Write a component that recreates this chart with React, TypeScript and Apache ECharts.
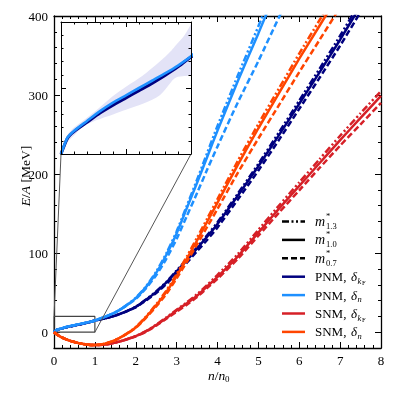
import React, { useEffect, useRef } from "react";
import * as echarts from "echarts";

// density n/n0
const X = [0, 0.05, 0.1, 0.2, 0.3, 0.4, 0.5, 0.6, 0.7, 0.8, 0.9, 1, 1.25, 1.5, 1.75, 2, 2.25, 2.5, 2.75, 3, 3.25, 3.5, 3.75, 4, 4.5, 5, 5.5, 6, 6.5, 7, 7.5, 8];

// PNM, delta_kF (navy)
const pnmKDot = [0, 2.4, 3.4, 4.8, 6.2, 7.4, 8.5, 9.6, 10.7, 11.9, 13.2, 14.7, 17.5, 21, 26, 32.2, 41.3, 51.5, 63.7, 78, 92.2, 107.5, 122.8, 139, 175.5, 213, 252.5, 293, 333.5, 375, 418.5, 462];
const pnmKSolid = [0, 2.4, 3.4, 4.8, 6.2, 7.4, 8.5, 9.6, 10.7, 11.9, 13.2, 14.7, 17.5, 21, 26, 32, 41, 51, 63, 77, 91, 106, 121, 137, 173, 210, 249, 289, 329, 370, 413, 456];
const pnmKDash = [0, 2.4, 3.4, 4.8, 6.2, 7.4, 8.5, 9.6, 10.7, 11.9, 13.2, 14.7, 17.5, 21, 25.8, 31.5, 40, 49.5, 61, 74.5, 88, 102.5, 117, 132.5, 168, 204.5, 243, 282.5, 322, 362.5, 405, 447];

// PNM, delta_n (light blue)
const pnmNDot = [0, 2.5, 3.5, 5.0, 6.5, 7.8, 8.9, 10.0, 11.1, 12.2, 13.4, 14.8, 19.5, 25.2, 33.3, 43.5, 57.8, 76.5, 100, 127.5, 160, 193, 227, 261, 325, 387, 450, 512, 574, 636, 698, 760];
const pnmNSolid = [0, 2.5, 3.5, 5.0, 6.5, 7.8, 8.9, 10.0, 11.1, 12.2, 13.4, 14.8, 19.5, 25, 33, 43, 57, 75, 98, 125, 157, 189, 222, 255, 318, 378, 440, 500, 560, 620, 680, 740];
const pnmNDash = [0, 2.5, 3.5, 5.0, 6.5, 7.8, 8.9, 10.0, 11.1, 12.2, 13.4, 14.8, 19.5, 25, 33, 42, 55.5, 72, 93, 118, 147, 176, 206, 235, 291, 343, 398, 450, 502, 554, 606, 658];

// SNM, delta_kF (red)
const snmKDot = [0, -2, -3.8, -6.8, -9, -11, -12.5, -13.8, -14.8, -15.6, -16.1, -16.3, -15.6, -13.2, -9.4, -4.9, 1.3, 9.5, 18.8, 28.5, 37.8, 48, 60, 72.5, 99, 129.5, 160, 189.5, 219, 248.5, 277, 305];
const snmKSolid = [0, -2, -3.8, -6.8, -9, -11, -12.5, -13.8, -14.8, -15.6, -16.1, -16.3, -15.6, -13.2, -9.5, -5, 1, 9, 18, 27.5, 36.5, 46, 58, 70, 96, 126, 156, 185, 214, 243, 271, 299];
const snmKDash = [0, -2, -3.8, -6.8, -9, -11, -12.5, -13.8, -14.8, -15.6, -16.1, -16.3, -15.6, -13.2, -9.6, -5.2, 0.6, 8.3, 17, 26, 34.8, 44.5, 56, 67.5, 93, 122, 151, 179.5, 208, 236, 263, 290];

// SNM, delta_n (orange)
const snmNDot = [0, -2, -3.8, -6.8, -9, -11, -12.5, -13.8, -14.8, -15.6, -16.1, -16.3, -14.4, -9.8, -2.7, 6.5, 19.8, 35.2, 52.8, 73.5, 96, 119.5, 144, 168.5, 217, 263.5, 308, 352.5, 395, 437.5, 480, 522];
const snmNSolid = [0, -2, -3.8, -6.8, -9, -11, -12.5, -13.8, -14.8, -15.6, -16.1, -16.3, -14.5, -10, -3, 6, 19, 34, 51, 71, 93, 116, 140, 164, 212, 258, 302, 346, 388, 430, 472, 514];
const snmNDash = [0, -2, -3.8, -6.8, -9, -11, -12.5, -13.8, -14.8, -15.6, -16.1, -16.3, -14.5, -10, -3, 5.5, 18, 32.5, 48.5, 68, 89, 111, 133.5, 156, 202, 245, 287, 329, 370, 411, 452, 493];

// inset uncertainty band (PNM)
const bandX = [0, 0.05, 0.1, 0.167, 0.27, 0.4, 0.5, 0.63, 0.76, 0.85, 0.885, 0.95, 1.0];
const bandLow = [0, 1.8, 2.8, 4.1, 5.1, 6.0, 6.7, 7.6, 8.9, 11.0, 11.6, 11.8, 11.9];
const bandHigh = [0, 2.9, 4.0, 5.0, 6.6, 8.8, 10.2, 11.9, 14.0, 15.7, 16.5, 18.0, 19.7];

// zoom rectangle in the main panel [x0, x1, y0, y1]
const zoomBox = [0, 1, 0, 20];

// ticks
const Y_MAJOR = [0, 100, 200, 300, 400];
const Y_MINOR = [-20, 20, 40, 60, 80, 120, 140, 160, 180, 220, 240, 260, 280, 320, 340, 360, 380];

// legend labels
const MSTAR_SUBS = ["1.3", "1.0", "0.7"];
const MATTER_LABELS = ["PNM", "PNM", "SNM", "SNM"];
const DELTA_SUBS = ["kF", "n", "kF", "n"];

const FONT = "Liberation Serif";
const NAVY = "#00007F";
const LB = "#1E90FF";
const RED = "#D62027";
const ORANGE = "#FF4500";
const DASH = [6, 3];
const DASHDOT = [7, 2.5, 2, 2.5, 2, 2.5];

export default function App() {
  const ref = useRef<HTMLDivElement>(null);
  useEffect(() => {
    const chart = echarts.init(ref.current!, null, { renderer: "svg" });

    const mk = (name: string, vals: number[], color: string, dash: any, z: number, n?: number, xi = 0, yi = 0, width = 2.5) => ({
      type: "line",
      name,
      xAxisIndex: xi,
      yAxisIndex: yi,
      data: X.slice(0, n ?? X.length).map((x, i) => [x, vals[i]]),
      showSymbol: false,
      symbol: "none",
      smooth: 0.2,
      silent: true,
      z,
      lineStyle: { color, width, type: dash, cap: "butt" },
    });

    const axisLabel = { fontFamily: FONT, fontSize: 13, color: "#000", margin: 6 };
    const lineStyleAxis = { color: "#000", width: 1.3 };
    const insetAxisLine = { onZero: false, lineStyle: { color: "#000", width: 1 } };
    const insetTick = { inside: true, length: 5, lineStyle: { color: "#000" } };
    const insetMinor = { show: true, splitNumber: 5, length: 2.5, lineStyle: { color: "#000" } };

    const option: any = {
      animation: false,
      grid: [
        { left: 54, right: 13, top: 16, bottom: 46, containLabel: false },
        { left: 61, top: 22, width: 130, height: 132, show: true, backgroundColor: "#fff", borderWidth: 0 },
        { left: 54, right: 13, top: 16, bottom: 46, containLabel: false },
      ],
      xAxis: [
        { gridIndex: 0, type: "value", min: 0, max: 8, interval: 1, position: "bottom", axisLine: { onZero: false, lineStyle: lineStyleAxis }, axisTick: { inside: true, length: 6, lineStyle: { color: "#000" } }, minorTick: { show: true, splitNumber: 5, length: 3, lineStyle: { color: "#000" } }, axisLabel, splitLine: { show: false } },
        { gridIndex: 0, type: "value", min: 0, max: 8, interval: 1, position: "top", axisLine: { onZero: false, lineStyle: lineStyleAxis }, axisTick: { inside: true, length: 6, lineStyle: { color: "#000" } }, minorTick: { show: true, splitNumber: 5, length: 3, lineStyle: { color: "#000" } }, axisLabel: { show: false }, splitLine: { show: false } },
        { gridIndex: 1, type: "value", min: 0, max: 1, interval: 0.5, position: "bottom", z: 10, axisLine: insetAxisLine, axisTick: insetTick, minorTick: insetMinor, axisLabel: { show: false }, splitLine: { show: false } },
        { gridIndex: 1, type: "value", min: 0, max: 1, interval: 0.5, position: "top", z: 10, axisLine: insetAxisLine, axisTick: insetTick, minorTick: insetMinor, axisLabel: { show: false }, splitLine: { show: false } },
        { gridIndex: 2, type: "value", min: 0, max: 8, show: false },
      ],
      yAxis: [
        { gridIndex: 0, type: "value", min: -20, max: 400, interval: 20, position: "left", axisLine: { onZero: false, lineStyle: lineStyleAxis }, axisTick: { inside: true, length: 6, customValues: Y_MAJOR, lineStyle: { color: "#000" } }, axisLabel: { ...axisLabel, customValues: Y_MAJOR }, splitLine: { show: false } },
        { gridIndex: 0, type: "value", min: -20, max: 400, interval: 20, position: "right", axisLine: { onZero: false, lineStyle: lineStyleAxis }, axisTick: { inside: true, length: 6, customValues: Y_MAJOR, lineStyle: { color: "#000" } }, axisLabel: { show: false }, splitLine: { show: false } },
        { gridIndex: 1, type: "value", min: 0, max: 20, interval: 10, position: "left", z: 10, axisLine: insetAxisLine, axisTick: insetTick, minorTick: insetMinor, axisLabel: { show: false }, splitLine: { show: false } },
        { gridIndex: 1, type: "value", min: 0, max: 20, interval: 10, position: "right", z: 10, axisLine: insetAxisLine, axisTick: insetTick, minorTick: insetMinor, axisLabel: { show: false }, splitLine: { show: false } },
        { gridIndex: 2, type: "value", min: -20, max: 400, interval: 20, position: "left", axisLine: { show: false }, axisTick: { inside: true, length: 3, customValues: Y_MINOR, lineStyle: { color: "#000" } }, axisLabel: { show: false }, splitLine: { show: false } },
        { gridIndex: 2, type: "value", min: -20, max: 400, interval: 20, position: "right", axisLine: { show: false }, axisTick: { inside: true, length: 3, customValues: Y_MINOR, lineStyle: { color: "#000" } }, axisLabel: { show: false }, splitLine: { show: false } },
      ],
      series: [
        // zoom box
        {
          type: "line", xAxisIndex: 0, yAxisIndex: 0, silent: true, symbol: "none", z: 1,
          data: [[zoomBox[0], zoomBox[2]], [zoomBox[1], zoomBox[2]], [zoomBox[1], zoomBox[3]], [zoomBox[0], zoomBox[3]], [zoomBox[0], zoomBox[2]]],
          lineStyle: { color: "#444", width: 1.2 },
        },
        mk("pnmKDot", pnmKDot, NAVY, DASHDOT, 3),
        mk("pnmKSolid", pnmKSolid, NAVY, "solid", 3),
        mk("pnmKDash", pnmKDash, NAVY, DASH, 3),
        mk("pnmNDot", pnmNDot, LB, DASHDOT, 4),
        mk("pnmNSolid", pnmNSolid, LB, "solid", 4),
        mk("pnmNDash", pnmNDash, LB, DASH, 4),
        mk("snmKDot", snmKDot, RED, DASHDOT, 5),
        mk("snmKSolid", snmKSolid, RED, "solid", 5),
        mk("snmKDash", snmKDash, RED, DASH, 5),
        mk("snmNDot", snmNDot, ORANGE, DASHDOT, 6),
        mk("snmNSolid", snmNSolid, ORANGE, "solid", 6),
        mk("snmNDash", snmNDash, ORANGE, DASH, 6),
        // inset band: lavender up to the upper edge, then white up to the lower edge
        {
          type: "line", xAxisIndex: 2, yAxisIndex: 2, silent: true, symbol: "none", z: 2,
          data: bandX.map((x, i) => [x, bandHigh[i]]), lineStyle: { opacity: 0 }, smooth: 0.3,
          areaStyle: { color: "#E3E3F7", opacity: 1, origin: "start" },
        },
        {
          type: "line", xAxisIndex: 2, yAxisIndex: 2, silent: true, symbol: "none", z: 2,
          data: bandX.map((x, i) => [x, bandLow[i]]), lineStyle: { opacity: 0 }, smooth: 0.3,
          areaStyle: { color: "#FFFFFF", opacity: 1, origin: "start" },
        },
        mk("insetK", pnmKSolid, NAVY, "solid", 3, 13, 2, 2, 3),
        mk("insetN", pnmNSolid, LB, "solid", 4, 13, 2, 2, 2.6),
      ],
    };
    chart.setOption(option);

    const boxTL = chart.convertToPixel({ gridIndex: 0 }, [zoomBox[0], zoomBox[3]]) as number[];
    const boxBR = chart.convertToPixel({ gridIndex: 0 }, [zoomBox[1], zoomBox[2]]) as number[];
    const insBL = chart.convertToPixel({ gridIndex: 1 }, [0, 0]) as number[];
    const insBR = chart.convertToPixel({ gridIndex: 1 }, [1, 0]) as number[];

    const els: any[] = [
      { type: "line", shape: { x1: boxTL[0], y1: boxTL[1], x2: insBL[0], y2: insBL[1] }, style: { stroke: "#555", lineWidth: 1 }, z: 10 },
      { type: "line", shape: { x1: boxBR[0], y1: boxBR[1], x2: insBR[0], y2: insBR[1] }, style: { stroke: "#555", lineWidth: 1 }, z: 10 },
    ];

    // axis names
    els.push({
      type: "text", x: 25, y: 176, rotation: Math.PI / 2, z: 20,
      style: {
        text: "{i|E}{r|/}{i|A}{r| [MeV]}", align: "center", verticalAlign: "middle",
        rich: { i: { fontFamily: FONT, fontSize: 13.5, fontStyle: "italic", fill: "#000" }, r: { fontFamily: FONT, fontSize: 13.5, fill: "#000" } },
      },
    });
    els.push({
      type: "text", x: 208, y: 375, z: 20,
      style: {
        text: "{i|n}{r|/}{i|n}", align: "left", verticalAlign: "middle",
        rich: { i: { fontFamily: FONT, fontSize: 13.5, fontStyle: "italic", fill: "#000" }, r: { fontFamily: FONT, fontSize: 13.5, fill: "#000" } },
      },
    });
    els.push({ type: "text", x: 225, y: 378.5, z: 20, style: { text: "0", fontFamily: FONT, fontSize: 9, fill: "#000", align: "left", verticalAlign: "middle" } });

    // legend
    const lx1 = 282, lx2 = 305, tx = 315, y0 = 221.5, dy = 18.4;
    const mDashes: any[] = [DASHDOT, null, DASH];
    MSTAR_SUBS.forEach((s, i) => {
      const y = y0 + i * dy;
      els.push({ type: "line", shape: { x1: lx1, y1: y, x2: lx2, y2: y }, style: { stroke: "#000", lineWidth: 2.5, lineDash: mDashes[i], lineCap: "butt" }, z: 20 });
      els.push({ type: "text", x: tx, y: y, z: 20, style: { text: "m", fontFamily: FONT, fontSize: 14, fontStyle: "italic", fill: "#000", align: "left", verticalAlign: "middle" } });
      els.push({ type: "text", x: tx + 11, y: y - 5.5, z: 20, style: { text: "*", fontFamily: FONT, fontSize: 8.5, fill: "#000", align: "left", verticalAlign: "middle" } });
      els.push({ type: "text", x: tx + 11, y: y + 4.2, z: 20, style: { text: s, fontFamily: FONT, fontSize: 8.5, fill: "#000", align: "left", verticalAlign: "middle" } });
    });
    const cols = [NAVY, LB, RED, ORANGE];
    MATTER_LABELS.forEach((m, i) => {
      const y = y0 + (i + 3) * dy;
      els.push({ type: "line", shape: { x1: lx1, y1: y, x2: lx2, y2: y }, style: { stroke: cols[i], lineWidth: 2.5, lineCap: "butt" }, z: 20 });
      els.push({ type: "text", x: tx, y: y, z: 20, style: { text: m + ",", fontFamily: FONT, fontSize: 13, fill: "#000", align: "left", verticalAlign: "middle" } });
      els.push({ type: "text", x: tx + 36, y: y, z: 20, style: { text: "δ", fontFamily: FONT, fontSize: 13, fontStyle: "italic", fill: "#000", align: "left", verticalAlign: "middle" } });
      const sub = DELTA_SUBS[i];
      els.push({ type: "text", x: tx + 42.5, y: y + 4, z: 20, style: { text: sub[0], fontFamily: FONT, fontSize: 8.5, fontStyle: "italic", fill: "#000", align: "left", verticalAlign: "middle" } });
      if (sub.length > 1) {
        els.push({ type: "text", x: tx + 47, y: y + 5.5, z: 20, style: { text: sub.slice(1), fontFamily: FONT, fontSize: 6.5, fill: "#000", align: "left", verticalAlign: "middle" } });
      }
    });

    chart.setOption({ graphic: [{ elements: els }] });

    return () => chart.dispose();
  }, []);
  return <div ref={ref} style={{ position: "fixed", left: 0, top: 0, width: 394, height: 394 }} />;
}
